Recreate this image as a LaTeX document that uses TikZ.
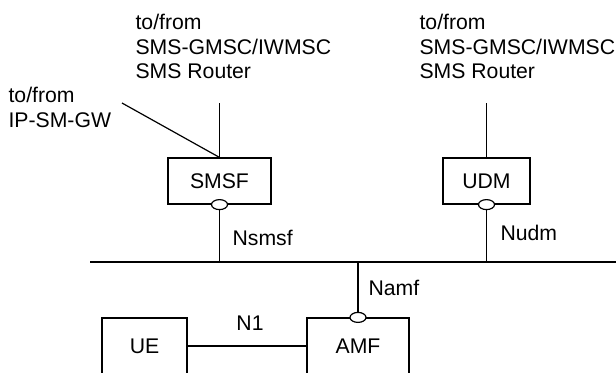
\documentclass[tikz,border=0pt]{standalone}
\usepackage{fontspec}
\setmainfont{Liberation Sans}
\usetikzlibrary{positioning}

\begin{document}
\begin{tikzpicture}[x=0.5pt,y=-0.5pt,line width=0.6pt,
    font=\fontsize{10.6}{12.25}\selectfont,
    nfbox/.style={draw,inner sep=0pt},
    lbl/.style={inner sep=0pt,align=left},
    port/.style={draw,fill=white}]
    \useasboundingbox (0,0) rectangle (616,372);
    \clip (0,0) rectangle (616,372);
    % network functions
    \node[nfbox,minimum width=51.5pt,minimum height=23pt] (SMSF) at (219.5,181) {SMSF};
    \node[nfbox,minimum width=43.5pt,minimum height=23pt] (UDM) at (486.5,181) {UDM};
    \node[nfbox,minimum width=42.5pt,minimum height=28pt] (UE) at (144.5,346) {UE};
    \node[nfbox,minimum width=51pt,minimum height=28pt] (AMF) at (358,346) {AMF};
    % outside peers
    \node[lbl,anchor=north west] (smsfPeer) at (135,14) {to/from\\SMS-GMSC/IWMSC\\SMS Router};
    \node[lbl,anchor=north west] (udmPeer) at (419,14) {to/from\\SMS-GMSC/IWMSC\\SMS Router};
    \node[lbl,anchor=north west] (ipPeer) at (8,87) {to/from\\IP-SM-GW};
    \coordinate (smsfUp) at (SMSF.north |- 0,103);
    \coordinate (udmUp) at (UDM.north |- 0,103);
    \coordinate (ipUp) at (122,103);
    \draw (smsfUp) -- (SMSF.north);
    \draw (udmUp) -- (UDM.north);
    \draw (ipUp) -- (SMSF.north);
    % service bus
    \coordinate (busW) at (90,262);
    \coordinate (busE) at (616,262);
    \draw (busW) -- (busE);
    \draw (SMSF.south) -- (SMSF.south |- busW);
    \draw (UDM.south) -- (UDM.south |- busW);
    \draw (AMF.north |- busW) -- (AMF.north);
    \draw (UE) -- (AMF);
    \draw[port] (SMSF.south) ellipse (4pt and 2.5pt);
    \draw[port] (UDM.south) ellipse (4pt and 2.5pt);
    \draw[port] (AMF.north) ellipse (4pt and 2.5pt);
    % interface names
    \node[lbl] (nsmsf) at (232,238) [right] {Nsmsf};
    \node[lbl] (nudm) at (500,233) [right] {Nudm};
    \node[lbl] (namf) at (368,288) [right] {Namf};
    \node[lbl] (n1) at (250,323) {N1};
\end{tikzpicture}
\end{document}
